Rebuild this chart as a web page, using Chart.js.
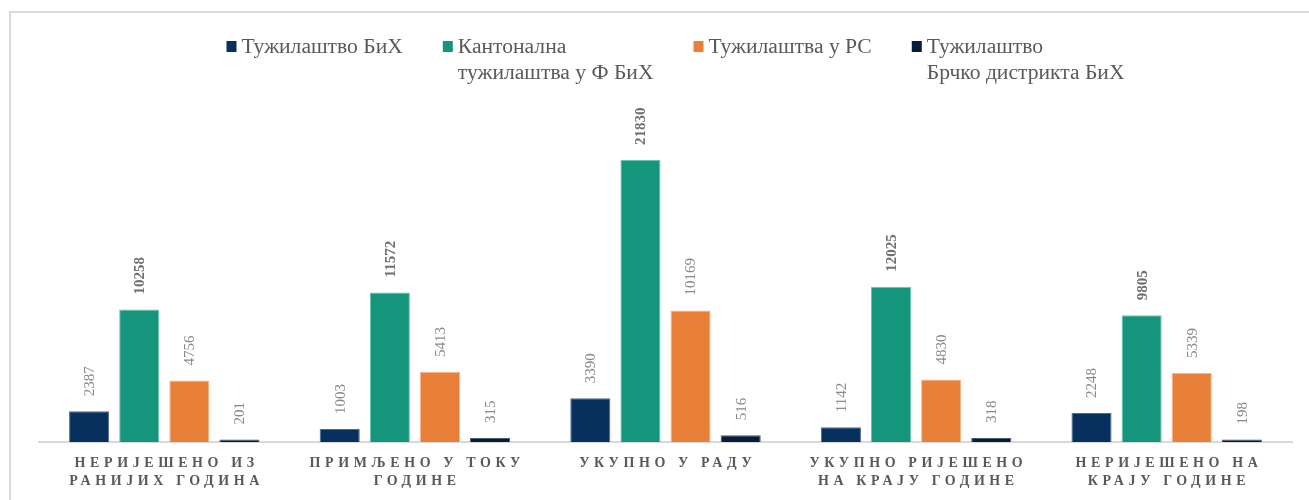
<!DOCTYPE html>
<html>
<head>
<meta charset="utf-8">
<script src="https://cdn.jsdelivr.net/npm/chart.js@4.4.1/dist/chart.umd.min.js"></script>
<style>
    body { margin: 0; background: #fff; overflow: hidden; }
    #frame { position: absolute; left: 9px; top: 11px; width: 1400px; height: 600px;
             border-left: 2px solid #d9d9d9; border-top: 2px solid #d9d9d9; }
    #chart { position: absolute; left: 0; top: 0; }
</style>
</head>
<body>
<div id="frame"></div>
<canvas id="chart" width="1309" height="500"></canvas>
<script>
    var categories = [
        ['НЕРИЈЕШЕНО ИЗ', 'РАНИЈИХ ГОДИНА'],
        ['ПРИМЉЕНО У ТОКУ', 'ГОДИНЕ'],
        ['УКУПНО У РАДУ'],
        ['УКУПНО РИЈЕШЕНО', 'НА КРАЈУ ГОДИНЕ'],
        ['НЕРИЈЕШЕНО НА', 'КРАЈУ ГОДИНЕ']
    ];
    var seriesNames = [
        ['Тужилаштво БиХ'],
        ['Кантонална', 'тужилаштва у Ф БиХ'],
        ['Тужилаштва у РС'],
        ['Тужилаштво', 'Брчко дистрикта БиХ']
    ];
    var tuzilastvoBih = [2387, 1003, 3390, 1142, 2248];
    var kantonalna = [10258, 11572, 21830, 12025, 9805];
    var tuzilastvaRs = [4756, 5413, 10169, 4830, 5339];
    var brcko = [201, 315, 516, 318, 198];

    var colors = ['#07305f', '#15967c', '#e8803a', '#071c38'];
    var borders = ['#4d6b8f', '#6cc4b0', '#f3b48a', '#4a5a70'];
    var textColor = '#595959';
    var serif = "'Liberation Serif', 'Times New Roman', serif";

    // value labels, rotated, above each bar
    var valueLabels = {
        id: 'valueLabels',
        afterDatasetsDraw: function (chart) {
            var ctx = chart.ctx;
            chart.data.datasets.forEach(function (ds, di) {
                var meta = chart.getDatasetMeta(di);
                meta.data.forEach(function (bar, i) {
                    ctx.save();
                    ctx.translate(bar.x + 1, bar.y - 15);
                    ctx.rotate(-Math.PI / 2);
                    ctx.font = (di === 1 ? 'bold ' : '') + '15px ' + serif;
                    ctx.fillStyle = di === 1 ? '#707070' : '#8a8a8a';
                    ctx.textAlign = 'left';
                    ctx.textBaseline = 'middle';
                    ctx.fillText(String(ds.data[i]), 0, 0);
                    ctx.restore();
                });
            });
        }
    };

    // spaced category labels under the axis
    var categoryLabels = {
        id: 'categoryLabels',
        afterDraw: function (chart) {
            var ctx = chart.ctx;
            var xScale = chart.scales.x;
            var spacing = 4.6;
            ctx.save();
            ctx.font = 'bold 14px ' + serif;
            ctx.fillStyle = textColor;
            ctx.textAlign = 'center';
            ctx.textBaseline = 'middle';
            ctx.letterSpacing = spacing + 'px';
            categories.forEach(function (lines, i) {
                var x = xScale.getPixelForValue(i);
                lines.forEach(function (line, j) {
                    ctx.fillText(line, x + spacing / 2, 463 + j * 18);
                });
            });
            ctx.restore();
        }
    };

    // legend with two-line entries
    var topLegend = {
        id: 'topLegend',
        afterDraw: function (chart) {
            var ctx = chart.ctx;
            var boxW = 10, boxH = 11, boxGap = 5, itemGap = 40;
            ctx.save();
            ctx.font = '21.6px ' + serif;
            var widths = seriesNames.map(function (lines) {
                var w = 0;
                lines.forEach(function (l) { w = Math.max(w, ctx.measureText(l).width); });
                return boxW + boxGap + w;
            });
            var total = widths.reduce(function (a, b) { return a + b; }, 0) + itemGap * (widths.length - 1);
            var center = (chart.chartArea.left + chart.chartArea.right) / 2 + 10;
            var x = center - total / 2;
            ctx.textBaseline = 'middle';
            ctx.textAlign = 'left';
            seriesNames.forEach(function (lines, i) {
                ctx.fillStyle = colors[i];
                ctx.fillRect(x, 41, boxW, boxH);
                ctx.fillStyle = textColor;
                lines.forEach(function (l, j) {
                    ctx.fillText(l, x + boxW + boxGap, 47 + j * 26);
                });
                x += widths[i] + itemGap;
            });
            ctx.restore();
        }
    };

    var seriesData = [tuzilastvoBih, kantonalna, tuzilastvaRs, brcko];

    new Chart(document.getElementById('chart'), {
        type: 'bar',
        data: {
            labels: categories,
            datasets: seriesData.map(function (values, i) {
                return {
                    label: seriesNames[i].join(' '),
                    data: values,
                    backgroundColor: colors[i],
                    borderColor: borders[i],
                    borderWidth: 1,
                    barPercentage: 0.8,
                    categoryPercentage: 0.8
                };
            })
        },
        options: {
            responsive: false,
            animation: false,
            layout: { padding: { left: 39, right: 17, top: 119, bottom: 50 } },
            plugins: {
                legend: { display: false },
                tooltip: { enabled: false }
            },
            scales: {
                x: {
                    grid: { display: false },
                    ticks: { display: false },
                    border: { color: '#d9d9d9', width: 2 }
                },
                y: {
                    display: false,
                    min: 0,
                    max: 25000
                }
            }
        },
        plugins: [valueLabels, categoryLabels, topLegend]
    });
</script>
</body>
</html>
